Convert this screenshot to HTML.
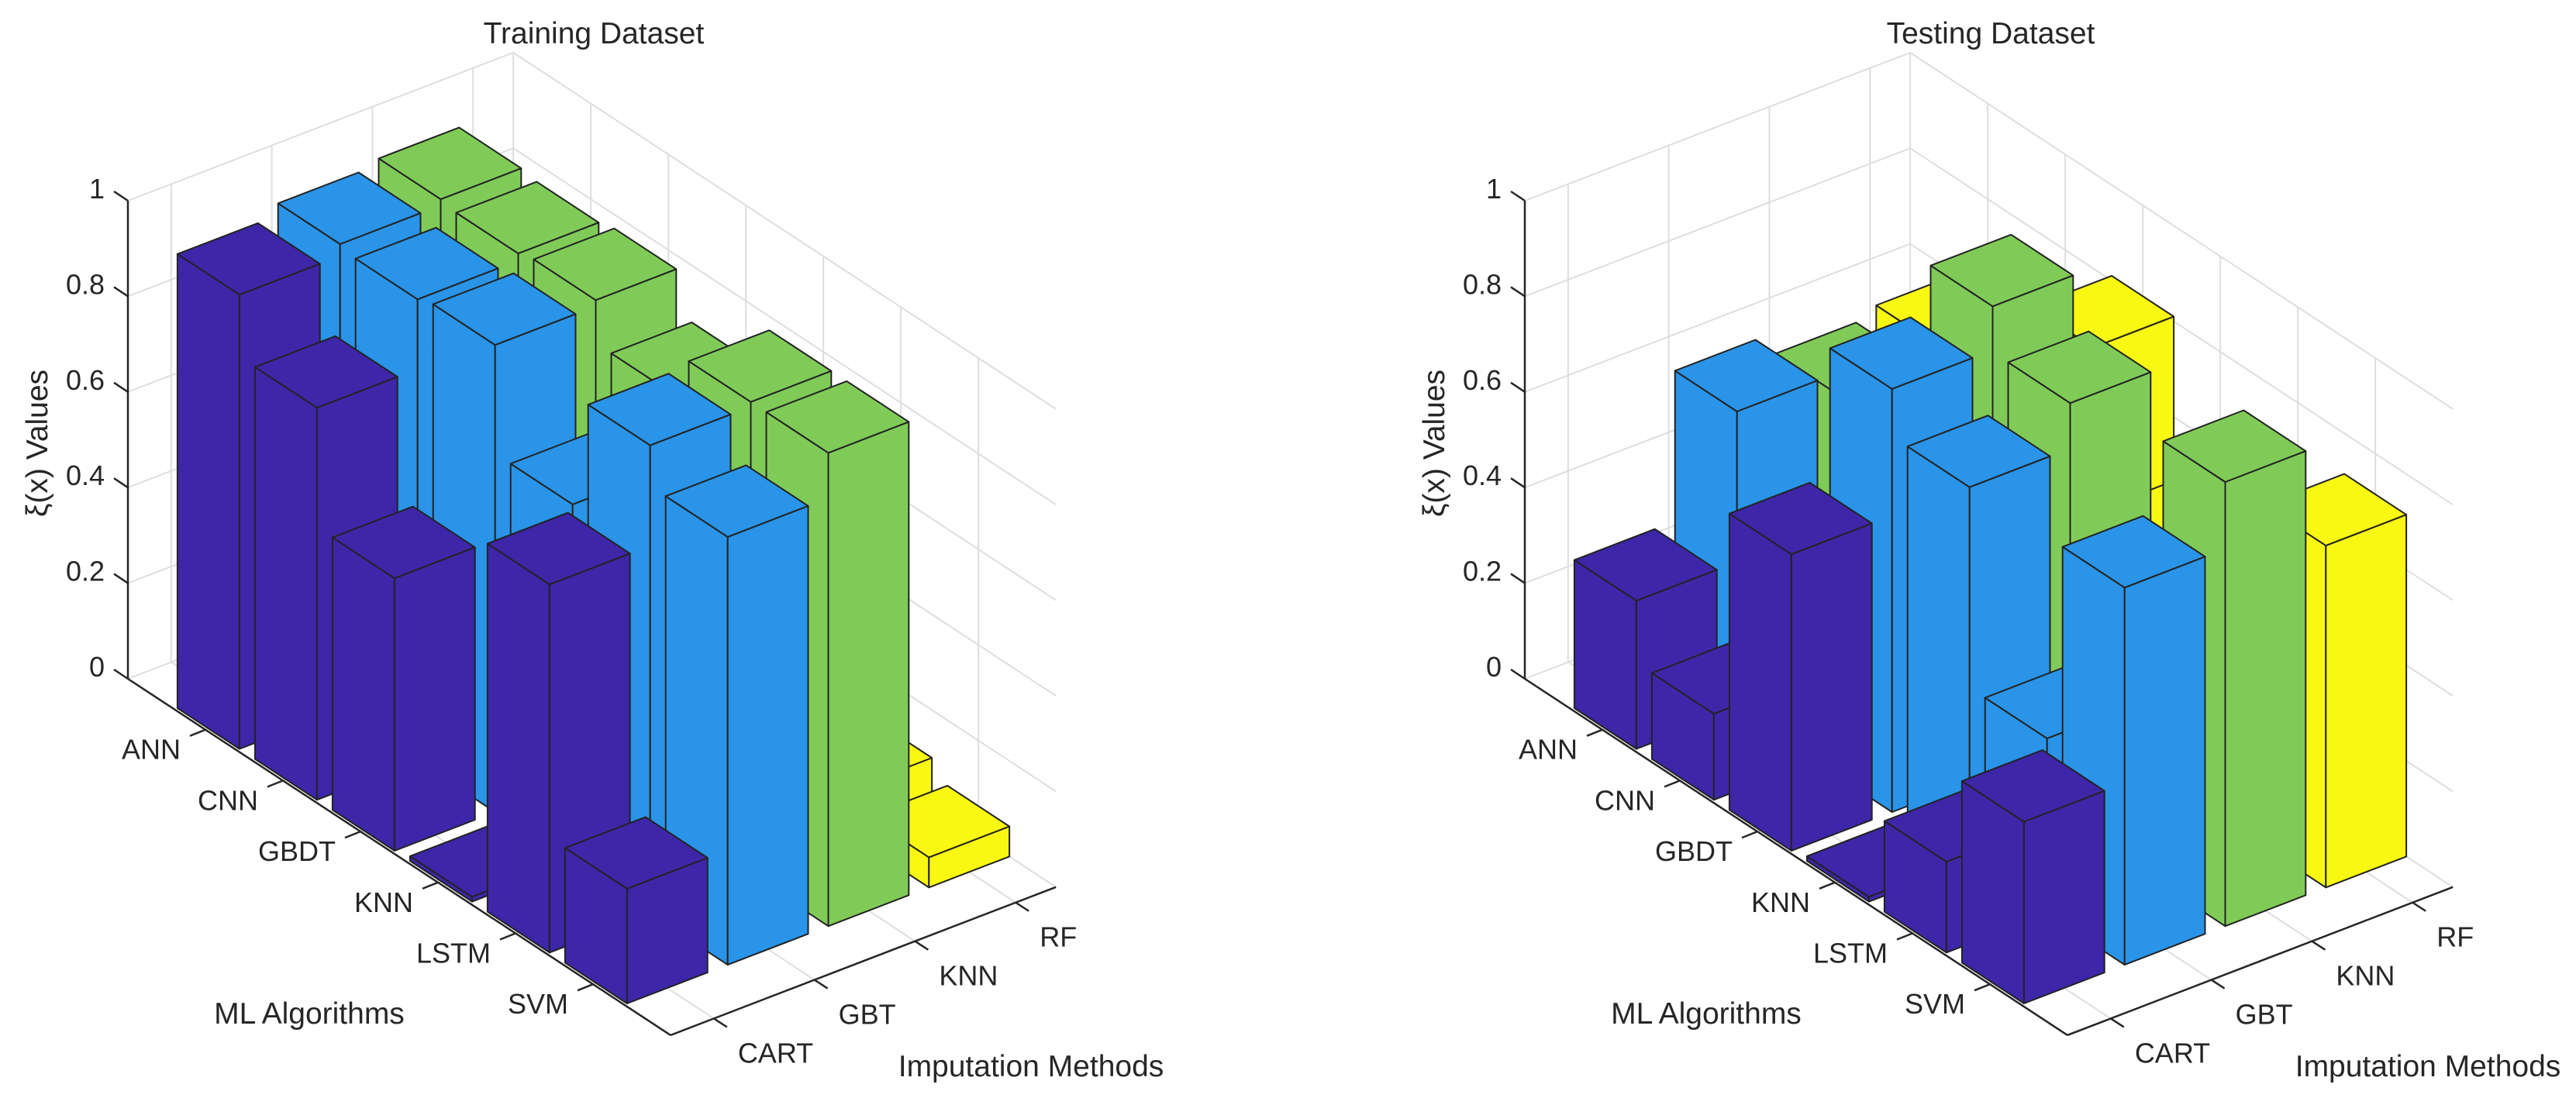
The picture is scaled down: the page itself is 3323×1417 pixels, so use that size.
<!DOCTYPE html>
<html><head><meta charset="utf-8"><style>
html,body{margin:0;padding:0;background:#fff;}
svg{display:block;font-family:"Liberation Sans",sans-serif;}
</style></head><body>
<svg id="chart" width="3323" height="1417" viewBox="0 0 3323 1417" xmlns="http://www.w3.org/2000/svg"></svg>
<script>
const mlCategories=['ANN','CNN','GBDT','KNN','LSTM','SVM'];
const impCategories=['CART','GBT','KNN','RF'];
const zTicks=[0,0.2,0.4,0.6,0.8,1];
const zTickLabels=['0','0.2','0.4','0.6','0.8','1'];
// Training dataset values (per imputation method, ordered by ML algorithm)
const trainCART=[0.95,0.82,0.57,0.01,0.77,0.24];
const trainGBT=[0.975,0.966,0.977,0.75,0.98,0.895];
const trainKNN=[0.988,0.981,0.99,0.90,0.99,0.99];
const trainRF=[0.08,0.08,0.08,0.08,0.10,0.063];
// Testing dataset values
const testCART=[0.31,0.18,0.62,0.01,0.19,0.38];
const testGBT=[0.625,0.30,0.885,0.786,0.367,0.789];
const testKNN=[0.58,0.50,0.977,0.881,0.50,0.929];
const testRF=[0.60,0.55,0.81,0.50,0.50,0.715];

const colors=['#3e26a8','#2994e8','#80cb58','#f9f812'];
const svg=document.getElementById('chart');
const NS='http://www.w3.org/2000/svg';
const IMIN=0,IMAX=7,JMIN=0.57,JMAX=4.4;
function P(dx,i,j,z){return [165+dx+100*i+129.8*(j-JMIN),876+65.7*i-49.9*(j-JMIN)-617*z];}
function mk(tag,attrs,parent){const e=document.createElementNS(NS,tag);for(const k in attrs)e.setAttribute(k,attrs[k]);(parent||svg).appendChild(e);return e;}
function line(g,a,b,stroke,w){return mk('line',{x1:a[0],y1:a[1],x2:b[0],y2:b[1],stroke:stroke,'stroke-width':w},g);}
function poly(g,pts,fill){return mk('polygon',{points:pts.map(p=>p[0].toFixed(1)+','+p[1].toFixed(1)).join(' '),fill:fill,stroke:'#222','stroke-width':2,'stroke-linejoin':'round'},g);}

function drawChart(dx,title,series,key){
  const g=mk('g',{});
  
  
  const grid=mk('g',{},g);
  
  
  const gc='#dedede';
  zTicks.forEach(z=>{line(grid,P(dx,0,JMIN,z),P(dx,0,JMAX,z),gc,2);line(grid,P(dx,0,JMAX,z),P(dx,IMAX,JMAX,z),gc,2);});
  impCategories.forEach((c,k)=>{const j=k+1;line(grid,P(dx,0,j,0),P(dx,0,j,1),gc,2);line(grid,P(dx,0,j,0),P(dx,IMAX,j,0),gc,2);});
  line(grid,P(dx,0,JMAX,0),P(dx,0,JMAX,1),gc,2);
  mlCategories.forEach((c,k)=>{const i=k+1;line(grid,P(dx,i,JMAX,0),P(dx,i,JMAX,1),gc,2);line(grid,P(dx,i,JMIN,0),P(dx,i,JMAX,0),gc,2);});
  const ax=mk('g',{},g);
  
  
  const ac='#262626';
  line(ax,P(dx,0,JMIN,0),P(dx,0,JMIN,1),ac,2.5);
  line(ax,P(dx,0,JMIN,0),P(dx,IMAX,JMIN,0),ac,2.5);
  line(ax,P(dx,IMAX,JMIN,0),P(dx,IMAX,JMAX,0),ac,2.5);
  zTicks.forEach((z,k)=>{const p=P(dx,0,JMIN,z);line(ax,p,[p[0]-18,p[1]-12],ac,2.5);
    const t=mk('text',{x:p[0]-30,y:p[1]-3,'text-anchor':'end','font-size':36,fill:ac},ax);t.textContent=zTickLabels[k];
    
    });
  mlCategories.forEach((c,k)=>{const p=P(dx,k+1,JMIN,0);line(ax,p,[p[0]-20,p[1]+8],ac,2.5);
    const t=mk('text',{x:p[0]-32,y:p[1]+38,'text-anchor':'end','font-size':36,fill:ac},ax);t.textContent=c;
    
    });
  impCategories.forEach((c,k)=>{const p=P(dx,IMAX,k+1,0);line(ax,p,[p[0]+17,p[1]+11],ac,2.5);
    const t=mk('text',{x:p[0]+31,y:p[1]+57,'text-anchor':'start','font-size':36,fill:ac},ax);t.textContent=c;
    
    });
  const bars=[];
  series.forEach((vals,jk)=>vals.forEach((v,ik)=>bars.push({i:ik+1,j:jk+1,v:v})));
  bars.sort((a,b)=>(a.i-a.j)-(b.i-b.j)||(b.j-a.j));
  const bg=mk('g',{},g);
  
  
  bars.forEach(b=>{
    const i0=b.i-0.4,i1=b.i+0.4,j0=b.j-0.4,j1=b.j+0.4,z=b.v,col=colors[b.j-1];
    const bar=mk('g',{},bg);
    
    
    poly(bar,[P(dx,i0,j0,0),P(dx,i1,j0,0),P(dx,i1,j0,z),P(dx,i0,j0,z)],col);
    poly(bar,[P(dx,i1,j0,0),P(dx,i1,j1,0),P(dx,i1,j1,z),P(dx,i1,j0,z)],col);
    poly(bar,[P(dx,i0,j0,z),P(dx,i1,j0,z),P(dx,i1,j1,z),P(dx,i0,j1,z)],col);
  });
  const tt=mk('text',{x:766+dx,y:56,'text-anchor':'middle','font-size':39,fill:ac},g);tt.textContent=title;
  
  
  const yl=mk('text',{x:0,y:0,'text-anchor':'middle','font-size':39,fill:ac,transform:'translate('+(61+dx)+',572) rotate(-90)'},g);yl.textContent='ξ(x) Values';
  
  
  const xl=mk('text',{x:399+dx,y:1321,'text-anchor':'middle','font-size':39,fill:ac},g);xl.textContent='ML Algorithms';
  
  
  const il=mk('text',{x:1330+dx,y:1389,'text-anchor':'middle','font-size':39,fill:ac},g);il.textContent='Imputation Methods';
  
  
}
drawChart(0,'Training Dataset',[trainCART,trainGBT,trainKNN,trainRF],'training');
drawChart(1802,'Testing Dataset',[testCART,testGBT,testKNN,testRF],'testing');
</script>
</body></html>
